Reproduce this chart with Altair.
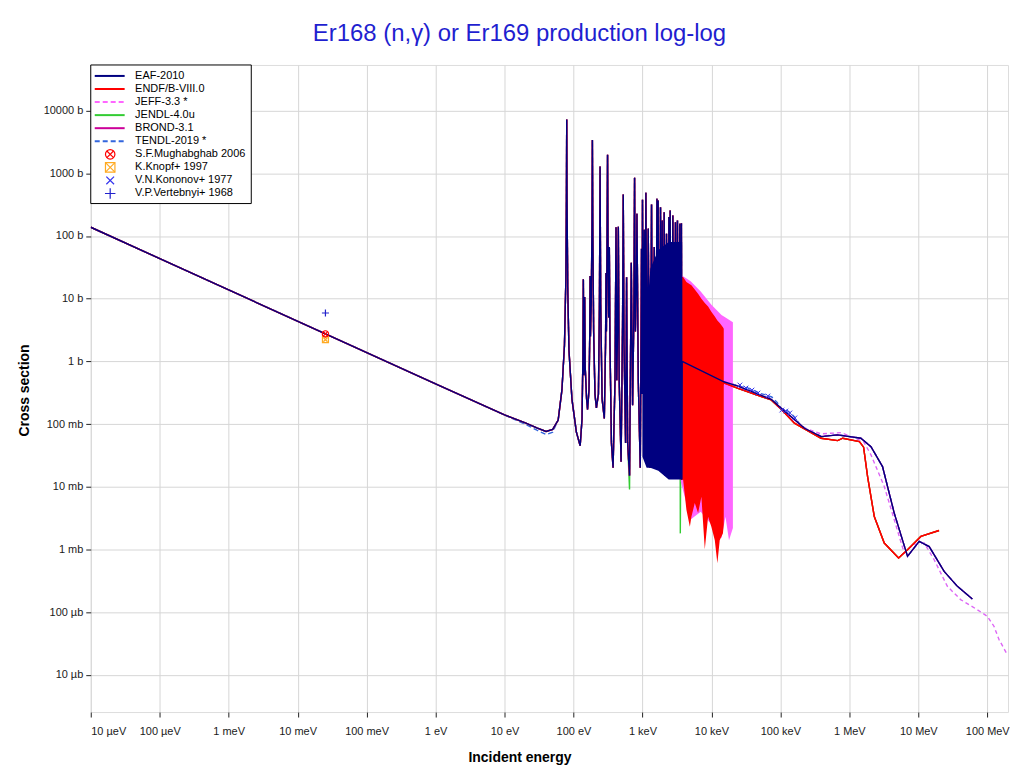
import altair as alt
import pandas as pd

# ---------------- axis ticks / labels ----------------
x_ticks = [1e-5, 1e-4, 1e-3, 1e-2, 1e-1, 1, 10, 100, 1e3, 1e4, 1e5, 1e6, 1e7, 1e8]
x_labels = ["10 µeV", "100 µeV", "1 meV", "10 meV", "100 meV", "1 eV", "10 eV",
            "100 eV", "1 keV", "10 keV", "100 keV", "1 MeV", "10 MeV", "100 MeV"]
y_ticks = [1e-5, 1e-4, 1e-3, 1e-2, 1e-1, 1, 10, 100, 1e3, 1e4]
y_labels = ["10 µb", "100 µb", "1 mb", "10 mb", "100 mb", "1 b", "10 b", "100 b",
            "1000 b", "10000 b"]

# ---------------- shared thermal + resolved resonance region (eV, b) ----------------
res_E = [1e-5, 1e-3, 0.0253, 1, 10, 20, 30, 40, 50, 60, 68, 74, 77.5, 79, 79.8, 80.6,
         82.5, 86, 95, 110, 125, 133, 137, 139, 141.5, 143.5, 145.5, 148, 155, 160,
         168, 172, 174, 176, 181, 185.5, 188, 190.5, 196, 205, 215, 230, 238, 243,
         248, 260, 280, 292, 296, 300, 306, 312, 318, 324, 331, 338, 355, 375, 400,
         414, 425, 438, 447, 460, 490, 515, 527, 540, 570, 589, 610, 650, 689, 720,
         750, 769, 790, 820, 832, 870, 930, 970, 985, 1002, 1030, 1061, 1090, 1122,
         1170, 1213, 1290, 1355, 1420, 1483, 1550, 1622, 1660, 1690, 1760, 1828,
         1880, 1933, 2000, 2066, 2150, 2233, 2330, 2418, 2470, 2523, 2640, 2761,
         2890, 3012, 3110, 3218, 3350, 3483, 3580, 3672, 3720]
res_xs = [137.8, 13.78, 2.74, 0.436, 0.140, 0.104, 0.086, 0.076, 0.082, 0.116, 0.35,
          1.8, 20, 400, 7200, 400, 15, 1.5, 0.25, 0.075, 0.045, 0.12, 1.2, 20.4, 0.6,
          1.5, 10.6, 0.8, 0.25, 0.17, 0.35, 2.5, 22.9, 2.5, 8, 150, 3410, 150, 3,
          0.3, 0.18, 0.3, 8, 1282, 8, 0.25, 0.123, 2, 25.6, 3, 60, 1968, 40, 5,
          66.5, 2, 0.05, 0.02, 0.5, 138, 0.5, 5, 140, 0.5, 0.025, 4, 459, 2, 0.05,
          22, 0.05, 0.015, 37.5, 0.2, 5, 847, 3, 20, 226, 0.5, 0.02, 62.7, 0.3, 378,
          0.3, 126, 0.25, 489, 0.2, 131, 0.02, 318, 0.03, 66.5, 0.02, 392, 0.5, 368,
          0.02, 288, 0.03, 177, 0.02, 240, 0.015, 109, 0.02, 200, 0.3, 256, 0.015,
          213, 0.02, 166, 0.015, 177, 0.02, 157, 0.015, 160, 0.013]

# ---------------- EAF-2010 ----------------
eaf_band_E = [1000, 1150, 1300, 1700, 2400, 3770]
eaf_band_top = [1.5, 5, 30, 60, 80, 80]
eaf_band_bot = [0.03, 0.02, 0.02, 0.018, 0.013, 0.013]
eaf_tail_E = [3770, 15200, 24300, 73600, 103000, 224000, 389000, 678000, 1.47e6,
              2.06e6, 3.03e6, 4.48e6, 6.98e6, 1.03e7, 1.44e7, 2.37e7, 3.69e7, 6.08e7]
eaf_tail_xs = [1.0, 0.472, 0.403, 0.248, 0.178, 0.0855, 0.063, 0.067, 0.0593, 0.0436,
               0.0209, 3.79e-3, 7.73e-4, 1.34e-3, 1.11e-3, 4.46e-4, 2.57e-4, 1.62e-4]

# ---------------- ENDF/B-VIII.0 ----------------
endf_band_E = [3600, 3890, 4340, 4870, 5130, 5740, 6410, 7160, 8020, 8950, 9980,
               11200, 12200, 13200, 14700, 15100]
endf_band_top = [22.2, 22.2, 18.5, 17.0, 16.4, 14.0, 12.0, 10.0, 8.5, 7.5, 6.2, 5.2,
                 4.5, 4.1, 3.5, 3.3]
endf_band_bot = [0.0129, 0.0129, 0.0043, 0.0023, 0.0033, 0.0055, 0.0038, 0.0069,
                 0.0010, 0.0033, 0.0023, 0.0014, 0.0006, 0.0014, 0.0018, 0.0025]
endf_tail_E = [15100, 15200, 24300, 73600, 103000, 160000, 389000, 678000, 802000,
               1.40e6, 1.61e6, 1.84e6, 2.30e6, 3.21e6, 5.18e6, 6.98e6, 1.09e7, 2.0e7]
endf_tail_xs = [0.46, 0.451, 0.371, 0.242, 0.172, 0.103, 0.0593, 0.0543, 0.0593,
                0.0524, 0.0427, 0.0145, 3.35e-3, 1.26e-3, 7.29e-4, 9.88e-4, 1.61e-3,
                2.0e-3]

# ---------------- JEFF-3.3 ----------------
jeff_band_E = [3600, 5000, 7000, 10000, 14000, 16000, 18000, 20500]
jeff_band_top = [24, 19, 13, 8, 5.5, 5.0, 4.6, 4.2]
jeff_band_bot = [0.012, 0.003, 0.004, 0.0025, 0.0015, 0.0033, 0.0014, 0.0022]
jeff_tail_E = [20500, 21200, 73600, 103000, 224000, 389000, 757000, 1.61e6, 2.06e6,
               3.21e6, 6.25e6, 8.51e6, 1.22e7, 1.70e7, 2.64e7, 4.11e7, 7.18e7, 1.0e8,
               1.25e8, 1.48e8, 1.95e8]
jeff_tail_xs = [0.43, 0.426, 0.248, 0.167, 0.0865, 0.0697, 0.0728, 0.0524, 0.0322,
                0.0101, 8.75e-4, 1.19e-3, 1.26e-3, 6.84e-4, 2.57e-4, 1.58e-4, 1.09e-4,
                8.57e-5, 5.94e-5, 3.65e-5, 2.10e-5]

# ---------------- JENDL-4.0u (deeper valleys) ----------------
jendl_dip_E = [650, 3540]
jendl_dip_xs = [0.009, 0.0018]

# ---------------- TENDL-2019 ----------------
tendl_low_E = [1e-5, 10, 20, 30, 40, 50]
tendl_low_xs = [137.8, 0.139, 0.099, 0.079, 0.068, 0.074]
tendl_tail_E = [3770, 15200, 24000, 27000, 31000, 36000, 42000, 50000, 62000, 75000,
                90000, 105000, 125000, 140000, 160000, 190000, 224000, 389000]
tendl_tail_xs = [1.0, 0.47, 0.41, 0.385, 0.40, 0.36, 0.34, 0.31, 0.29, 0.27, 0.22,
                 0.17, 0.165, 0.15, 0.13, 0.10, 0.087, 0.064]

# ---------------- measurements ----------------
mugh_E, mugh_xs = [0.0253], [2.74]
knopf_E, knopf_xs = [0.0253], [2.22]
kon_E = [25900, 31700, 38700, 47300, 65900, 105000, 120000, 137000, 162000]
kon_xs = [0.419, 0.375, 0.348, 0.312, 0.280, 0.167, 0.161, 0.150, 0.125]
vert_E, vert_xs = [0.0253], [5.9]

legend_labels = ["EAF-2010", "ENDF/B-VIII.0", "JEFF-3.3 *", "JENDL-4.0u", "BROND-3.1",
                 "TENDL-2019 *", "S.F.Mughabghab 2006", "K.Knopf+ 1997",
                 "V.N.Kononov+ 1977", "V.P.Vertebnyi+ 1968"]

# ---------------- styles ----------------
C_EAF, C_ENDF, C_JEFF, C_JENDL, C_BROND, C_TENDL = (
    "#000080", "#ff0000", "#ff66ff", "#33cc33", "#cc0099", "#3366dd")
C_JEFF_TAIL = "#dd66f5"
C_MUGH, C_KNOPF, C_KON, C_VERT = "#ff0000", "#ffaa22", "#3333ee", "#2222cc"
FONT = "Liberation Sans"
XPATH = "M-0.7,-0.7L0.7,0.7M-0.7,0.7L0.7,-0.7"
XPATH_FULL = "M-1,-1L1,1M-1,1L1,-1"
PLUS = "M-1,0L1,0M0,-1L0,1"


def series(E, xs):
    return pd.DataFrame({"E": E, "xs": xs, "i": list(range(len(E)))})


def splice(bE, bx, nE, nx):
    pts = dict(zip(bE, bx))
    pts.update(dict(zip(nE, nx)))
    ks = sorted(pts)
    return ks, [pts[k] for k in ks]


def keep_from(E, xs, lo):
    return [e for e in E if e >= lo], [v for e, v in zip(E, xs) if e >= lo]


xscale = alt.Scale(type="log", domain=[1e-5, 2.0e8], nice=False)
yscale = alt.Scale(type="log", domain=[2.54e-6, 5.35e4], nice=False)

x_expr = "[" + ",".join("'%s'" % s for s in x_labels) + "][round(log(datum.value)/LN10)+5]"
y_expr = "[" + ",".join("'%s'" % s for s in y_labels) + "][round(log(datum.value)/LN10)+5]"

common_axis = dict(grid=True, gridColor="#d6d6d6", gridWidth=1, domain=False,
                   tickColor="#222", tickSize=5, labelFont=FONT, labelFontSize=11,
                   labelColor="#1a1a1a", titleFont=FONT, titleFontSize=14,
                   titleFontWeight="bold", titleColor="black")
xaxis = alt.Axis(values=x_ticks, labelExpr=x_expr, title="Incident energy",
                 titleX=430, titleY=50, titleBaseline="alphabetic",
                 titleAnchor="start", titleAlign="center", labelPadding=9,
                 **common_axis)
yaxis = alt.Axis(values=y_ticks, labelExpr=y_expr, title="Cross section",
                 titleX=-66, titleY=326, titleAngle=-90, titleBaseline="middle",
                 titleAlign="center", titleAnchor="start", labelPadding=3,
                 **common_axis)


def X(f="E"):
    return alt.X(f"{f}:Q", scale=xscale, axis=xaxis)


def Y(f="xs"):
    return alt.Y(f"{f}:Q", scale=yscale, axis=yaxis)


def line(E, xs, color, dash=None, width=1.4):
    kw = dict(color=color, strokeWidth=width, clip=True)
    if dash:
        kw["strokeDash"] = dash
    return alt.Chart(series(E, xs)).mark_line(**kw).encode(x=X(), y=Y(), order="i:Q")


def band(E, top, bot, color):
    df = pd.DataFrame({"E": E, "top": top, "bot": bot})
    return alt.Chart(df).mark_area(color=color, opacity=1, clip=True).encode(
        x=X(), y=Y("top"), y2="bot:Q")


def points(E, xs, shape, color, size, sw=1.2):
    return alt.Chart(series(E, xs)).mark_point(
        shape=shape, color=color, size=size, strokeWidth=sw, filled=False,
        opacity=1, clip=True).encode(x=X(), y=Y())


layers = []
# TENDL
tk = keep_from(res_E, res_xs, 60)
tE, tx = splice(tk[0], tk[1], tendl_low_E, tendl_low_xs)
e_late = keep_from(eaf_tail_E, eaf_tail_xs, 678000)
layers.append(line(tE + tendl_tail_E + e_late[0], tx + tendl_tail_xs + e_late[1],
                   C_TENDL, dash=[5, 3]))
# BROND
layers.append(line(res_E + eaf_tail_E, res_xs + eaf_tail_xs, C_BROND))
# JENDL
jE, jx = splice(res_E, res_xs, jendl_dip_E, jendl_dip_xs)
layers.append(line(jE + endf_tail_E, jx + endf_tail_xs, C_JENDL))
# JEFF
layers.append(line(res_E, res_xs, C_JEFF))
layers.append(band(jeff_band_E, jeff_band_top, jeff_band_bot, C_JEFF))
layers.append(line(jeff_tail_E, jeff_tail_xs, C_JEFF_TAIL, dash=[4, 3]))
# ENDF
layers.append(line(res_E + endf_tail_E, res_xs + endf_tail_xs, C_ENDF))
layers.append(band(endf_band_E, endf_band_top, endf_band_bot, C_ENDF))
layers.append(line(endf_tail_E, endf_tail_xs, C_ENDF))
# EAF
layers.append(band(eaf_band_E, eaf_band_top, eaf_band_bot, C_EAF))
layers.append(line(res_E + eaf_tail_E, res_xs + eaf_tail_xs, C_EAF))
# measurements
layers.append(points(kon_E, kon_xs, XPATH_FULL, C_KON, 22, 1))
layers.append(points(knopf_E, knopf_xs, "square", C_KNOPF, 36))
layers.append(points(knopf_E, knopf_xs, XPATH, C_KNOPF, 36))
layers.append(points(mugh_E, mugh_xs, "circle", C_MUGH, 40))
layers.append(points(mugh_E, mugh_xs, XPATH, C_MUGH, 40))
layers.append(points(vert_E, vert_xs, PLUS, C_VERT, 50))

# ---------------- legend box ----------------
one = pd.DataFrame({"k": [0]})
layers.append(alt.Chart(one).mark_rect(fill="white", stroke="black", strokeWidth=1).encode(
    x=alt.value(0), x2=alt.value(161), y=alt.value(0), y2=alt.value(139)))

leg_line_styles = [(C_EAF, None), (C_ENDF, None), (C_JEFF, [5, 3]), (C_JENDL, None),
                   (C_BROND, None), (C_TENDL, [5, 3])]
for i, label in enumerate(legend_labels):
    py = 11 + 13.1 * i
    if i < 6:
        col, dash = leg_line_styles[i]
        kw = dict(color=col, strokeWidth=2)
        if dash:
            kw["strokeDash"] = dash
        layers.append(alt.Chart(one).mark_rule(**kw).encode(
            x=alt.value(4), x2=alt.value(34), y=alt.value(py)))
    else:
        specs = {6: [("circle", C_MUGH, 90), (XPATH, C_MUGH, 90)],
                 7: [("square", C_KNOPF, 90), (XPATH_FULL, C_KNOPF, 90)],
                 8: [(XPATH_FULL, C_KON, 60)],
                 9: [(PLUS, C_VERT, 110)]}[i]
        for shp, col, sz in specs:
            layers.append(alt.Chart(one).mark_point(
                shape=shp, color=col, size=sz, strokeWidth=1.2, filled=False,
                opacity=1).encode(x=alt.value(19.5), y=alt.value(py)))
    layers.append(alt.Chart(pd.DataFrame({"label": [label]})).mark_text(
        align="left", baseline="middle", font=FONT, fontSize=11, color="black").encode(
        x=alt.value(44.5), y=alt.value(py), text="label:N"))

chart = alt.layer(*layers).properties(
    width=920, height=649,
    autosize=alt.AutoSizeParams(type="none"),
    padding={"left": 83, "top": 56, "right": 4, "bottom": 58},
    title=alt.TitleParams(text="Er168 (n,γ) or Er169 production log-log",
                          font=FONT, fontSize=24, fontWeight="normal",
                          color="#1f1fd0", anchor="middle", frame="group",
                          dx=-30, offset=19),
).configure_view(stroke="#222", strokeWidth=1.5).configure(background="white")

chart.save("out.html", embed_options={"renderer": "svg", "actions": False})
